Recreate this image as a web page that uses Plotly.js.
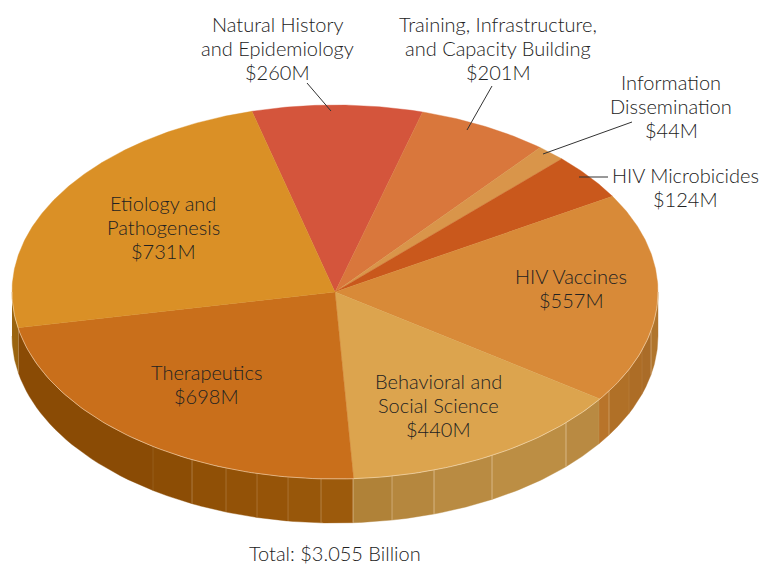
<!DOCTYPE html>
<html>
<head>
<meta charset="utf-8">
<script src="https://cdn.plot.ly/plotly-3.0.1.min.js"></script>
<style>html,body{margin:0;padding:0;background:#fff}#chart{width:760px;height:565px}</style>
</head>
<body>
<div id="chart"></div>
<script>
// ---- data ----
const categories = ["Natural History and Epidemiology","Training, Infrastructure, and Capacity Building","Information Dissemination","HIV Microbicides","HIV Vaccines","Behavioral and Social Science","Therapeutics","Etiology and Pathogenesis"];
const values = [260,201,44,124,557,440,698,731];
const valueLabels = ["$260M","$201M","$44M","$124M","$557M","$440M","$698M","$731M"];
const labelLines = [
  ["Natural History","and Epidemiology"],
  ["Training, Infrastructure,","and Capacity Building"],
  ["Information","Dissemination"],
  ["HIV Microbicides"],
  ["HIV Vaccines"],
  ["Behavioral and","Social Science"],
  ["Therapeutics"],
  ["Etiology and","Pathogenesis"]
];
const totalLabel = "Total: $3.055 Billion";

// ---- style and geometry ----
const topColors = ["#d4553c","#d9773c","#d9954a","#c9581c","#d88a38","#dca44e","#c96f1b","#da9026"];
const labelX = [277.5,498,671,685,571,438,206.5,163];
const labelY = [24,24,82,175,276,381,372,203];
const lineGap = 23.8;
const cx = 335, cy = 292, rx = 323, ry = 187, depth = 44, startDeg = -14.9;
const facetEdges = [12,18.5,153,192,226,257,288,321,353,392,434,492,566,599,609,629,642,651,658];
const facetColors = ["#9a6410","#8a4b05","#8c4d05","#905006","#935207","#965408","#98570a","#9c5a0c","#b08238","#b5873e","#b98b42","#bc8e44","#b98a42","#b8742a","#b07027","#ad6d26","#aa6c28","#b0752d"];
const seamAlpha = [0.15,0.12,0.3,0.22,0.22,0.22,0.3,0.5,0.4,0.5,0.5,0.5,0.1,0.35,0.1,0.1,0.4];
const leaders = [[307,83,331,111],[492,86,467,130],[632,122,543,154],[608,177,579,177]];

const rad = d => d*Math.PI/180;
const px = d => cx + rx*Math.sin(rad(d));
const py = d => cy - ry*Math.cos(rad(d));
const xToDeg = x => 180 - Math.asin(Math.max(-1,Math.min(1,(x-cx)/rx)))*180/Math.PI;
function arc(a,b,n){const o=[];for(let i=0;i<=n;i++)o.push(a+(b-a)*i/n);return o;}

const traces = [];
const base = {type:"scatter",mode:"lines",hoverinfo:"skip",showlegend:false};

// side wall facets
facetColors.forEach((c,i)=>{
  const a = xToDeg(facetEdges[i]), b = xToDeg(facetEdges[i+1]);
  const ds = arc(a,b,24), rev = ds.slice().reverse();
  traces.push({...base,fill:"toself",fillcolor:c,line:{color:c,width:0.4},
    x: ds.map(px).concat(rev.map(px)),
    y: ds.map(py).concat(rev.map(d=>py(d)+depth))});
});
// pale seams between facets
facetEdges.slice(1,-1).forEach((x,i)=>{
  const d = xToDeg(x);
  traces.push({...base,line:{color:"rgba(255,238,215,"+seamAlpha[i]+")",width:0.9},x:[px(d),px(d)],y:[py(d),py(d)+depth]});
});
// top slices
const total = values.reduce((s,v)=>s+v,0);
let cum = 0;
values.forEach((v,i)=>{
  const a = startDeg + cum/total*360, b = startDeg + (cum+v)/total*360;
  cum += v;
  const ds = arc(a,b,Math.max(8,Math.ceil(b-a)*2));
  traces.push({...base,name:categories[i],fill:"toself",fillcolor:topColors[i],line:{color:topColors[i],width:0.4},
    x:[cx].concat(ds.map(px),[cx]),y:[cy].concat(ds.map(py),[cy])});
});
// pale rim along the near edge
const rim = arc(90,270,180);
traces.push({...base,line:{color:"rgba(255,238,215,0.7)",width:0.7},x:rim.map(px),y:rim.map(py)});

const font = {family:"Lato, sans-serif",size:20,weight:300,color:"#222222"};
const annotations = [];
function addText(t,x,y){annotations.push({text:t,x,y,xref:"x",yref:"y",showarrow:false,xanchor:"center",yanchor:"middle",font});}
labelLines.forEach((lines,i)=>{
  lines.concat(valueLabels[i]).forEach((t,j)=>addText(t,labelX[i],labelY[i]+j*lineGap));
});
addText(totalLabel,335,553);

const shapes = leaders.map(l=>({type:"line",xref:"x",yref:"y",x0:l[0],y0:l[1],x1:l[2],y1:l[3],line:{color:"#333",width:1}}));

Plotly.newPlot("chart",traces,{
  width:760,height:565,margin:{l:0,r:0,t:0,b:0},
  paper_bgcolor:"#fff",plot_bgcolor:"#fff",showlegend:false,
  xaxis:{range:[0,760],visible:false,fixedrange:true},
  yaxis:{range:[565,0],visible:false,fixedrange:true},
  annotations,shapes
},{displayModeBar:false,staticPlot:true});
</script>
</body>
</html>
